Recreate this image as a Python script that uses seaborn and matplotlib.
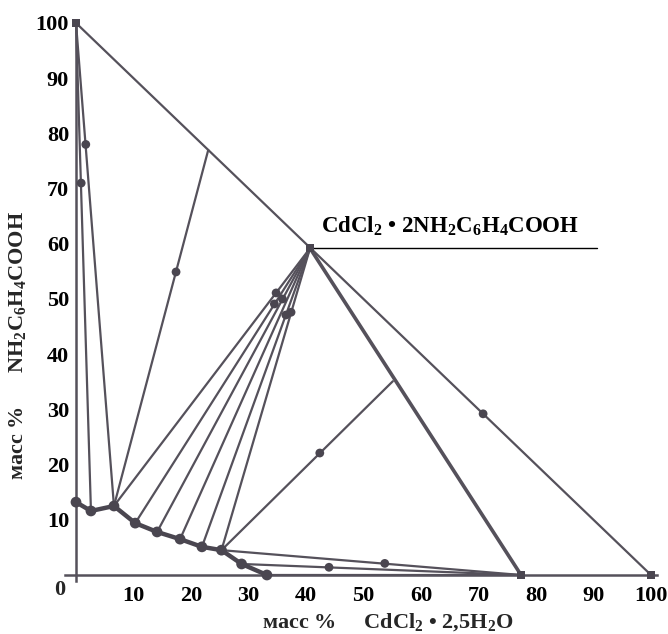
import matplotlib
matplotlib.use("Agg")
import matplotlib.pyplot as plt
import seaborn as sns
import numpy as np

# ---------------- data (mass %) ----------------
# solubility curve: x = CdCl2*2.5H2O, y = NH2C6H4COOH
curve_x = [0.0, 2.6, 6.6, 10.3, 14.1, 18.1, 21.9, 25.3, 28.8, 33.2]
curve_y = [13.2, 11.6, 12.5, 9.4, 7.8, 6.5, 5.1, 4.5, 2.0, 0.0]

# figurative points
top_x, top_y = 0.0, 100.0            # pure NH2C6H4COOH
compound_x, compound_y = 40.7, 59.2  # CdCl2*2NH2C6H4COOH
salt_x, salt_y = 77.4, 0.0           # solid salt point
corner_x, corner_y = 100.0, 0.0      # pure CdCl2*2.5H2O

# tie lines (liquid point -> solid phase point)
tie_from_x = [2.6, 6.6, 6.6, 6.6, 10.3, 14.1, 18.1, 21.9, 25.3, 25.3, 25.3, 28.8]
tie_from_y = [11.6, 12.5, 12.5, 12.5, 9.4, 7.8, 6.5, 5.1, 4.5, 4.5, 4.5, 2.0]
tie_to_x = [0.0, 0.0, 23.0, 40.7, 40.7, 40.7, 40.7, 40.7, 40.7, 55.1, 77.4, 77.4]
tie_to_y = [100.0, 100.0, 77.0, 59.2, 59.2, 59.2, 59.2, 59.2, 59.2, 35.1, 0.0, 0.0]

# wet residue points
residue_x = [0.9, 1.7, 17.4, 34.8, 34.5, 35.9, 36.5, 37.4, 42.4, 53.7, 44.0, 70.8]
residue_y = [71.0, 78.0, 54.9, 51.1, 49.1, 50.0, 47.1, 47.6, 22.1, 2.1, 1.4, 29.2]

xticks = [10, 20, 30, 40, 50, 60, 70, 80, 90, 100]
yticks = [10, 20, 30, 40, 50, 60, 70, 80, 90, 100]

# ---------------- style ----------------
sns.set_style("white")
plt.rcParams["font.family"] = ["Liberation Serif", "DejaVu Serif"]
plt.rcParams["font.weight"] = "bold"
plt.rcParams["mathtext.fontset"] = "custom"
plt.rcParams["mathtext.rm"] = "Liberation Serif:bold"
plt.rcParams["mathtext.bf"] = "Liberation Serif:bold"
plt.rcParams["mathtext.it"] = "Liberation Serif:bold"

LC = "#55515b"
W, H = 668, 634
fig = plt.figure(figsize=(W / 100, H / 100), dpi=100)

# pixel mapping: X px = 76 + 5.75*x ; Y px = 575 - 5.52*y
xa, xb = -5, 102
ya, yb = -3, 102
px_a, px_b = 76 + 5.75 * xa, 76 + 5.75 * xb
py_a, py_b = 575 - 5.52 * ya, 575 - 5.52 * yb
ax = fig.add_axes([px_a / W, (H - py_a) / H, (px_b - px_a) / W, (py_a - py_b) / H])
ax.set_xlim(xa, xb)
ax.set_ylim(ya, yb)
ax.patch.set_alpha(0)

# axes lines through origin
for s in ["top", "right"]:
    ax.spines[s].set_visible(False)
ax.spines["left"].set_position(("data", 0))
ax.spines["bottom"].set_position(("data", 0))
ax.spines["left"].set_bounds(-1, 100)
ax.spines["bottom"].set_bounds(-2, 101)
for s in ["left", "bottom"]:
    ax.spines[s].set_color(LC)
    ax.spines[s].set_linewidth(1.8)

ax.set_xticks(xticks)
ax.set_yticks(yticks)
ax.set_xticklabels([str(t) for t in xticks])
ax.set_yticklabels([str(t) for t in yticks])
ax.tick_params(axis="both", direction="inout", length=6, width=2, color=LC,
               labelsize=16, labelcolor="black")
ax.tick_params(axis="x", pad=5)
ax.tick_params(axis="y", pad=2)
for lab in ax.get_xticklabels() + ax.get_yticklabels():
    lab.set_fontweight("bold")

# big triangle side (hypotenuse) and compound -> salt side
ax.plot([top_x, corner_x], [top_y, corner_y], color=LC, lw=1.6, zorder=2)
ax.plot([compound_x, salt_x], [compound_y, salt_y], color=LC, lw=2.6, zorder=2)
ax.plot([curve_x[-1], salt_x], [curve_y[-1], salt_y], color=LC, lw=1.6, zorder=2)

# tie lines
for x0, y0, x1, y1 in zip(tie_from_x, tie_from_y, tie_to_x, tie_to_y):
    ax.plot([x0, x1], [y0, y1], color=LC, lw=1.6, zorder=2)

# solubility curve
sns.lineplot(x=curve_x, y=curve_y, sort=False, estimator=None, ax=ax,
             color="#4a4650", lw=3.2, zorder=3)
sns.scatterplot(x=curve_x, y=curve_y, ax=ax, color="#4a4650", s=60,
                edgecolor="none", zorder=4)

# residues and figurative points
sns.scatterplot(x=residue_x, y=residue_y, ax=ax, color="#4a4650", s=40,
                edgecolor="none", zorder=4)
sns.scatterplot(x=[salt_x, corner_x, compound_x, top_x],
                y=[salt_y, corner_y, compound_y, top_y], ax=ax,
                color="#4a4650", s=30, marker="s", edgecolor="none", zorder=4)

# compound label with leader line
ax.plot([compound_x, 90.6], [compound_y, compound_y], color="black", lw=1.0, zorder=2)
ax.text(42.6, 61.0, r"CdCl$_2$ • 2NH$_2$C$_6$H$_4$COOH", fontsize=16.5,
        fontweight="bold", ha="left", va="bottom", color="black")

# origin label
ax.text(-2.9, -2.7, "0", fontsize=16, fontweight="bold", ha="center", va="center")

# axis titles
fig.text(262 / W, 1 - 622 / H, r"масс %     CdCl$_2$ • 2,5H$_2$O", fontsize=16,
         fontweight="bold", ha="left", va="center")
fig.text(18 / W, 1 - 346 / H, r"масс %      NH$_2$C$_6$H$_4$COOH", fontsize=16,
         fontweight="bold", ha="center", va="center", rotation=90)

fig.savefig("out.png", dpi=100)
